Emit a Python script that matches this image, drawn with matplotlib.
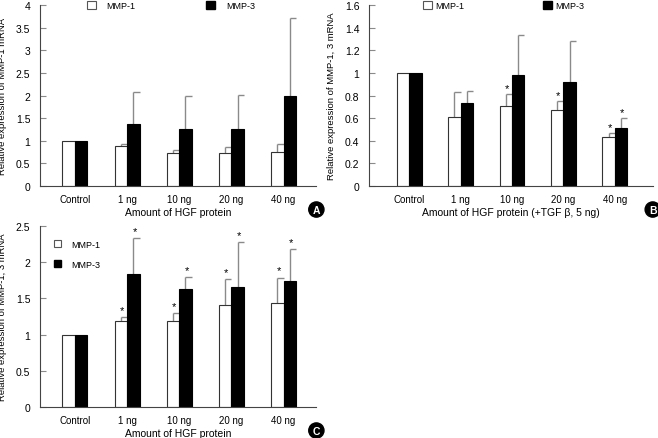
import numpy as np
import matplotlib.pyplot as plt
from matplotlib.patches import Patch

plt.rcParams['font.family'] = ['Liberation Sans Narrow', 'Liberation Sans', 'DejaVu Sans']
plt.rcParams['font.size'] = 7.5

categorie = ['Control', '1 ng', '10 ng', '20 ng', '40 ng']

# pannello A
a_mmp1 = [1.0, 0.88, 0.73, 0.73, 0.745]
a_mmp1_err = [0.0, 0.05, 0.07, 0.125, 0.175]
a_mmp3 = [1.0, 1.38, 1.25, 1.25, 2.0]
a_mmp3_err = [0.0, 0.69, 0.73, 0.77, 1.72]

# pannello B
b_mmp1 = [1.0, 0.61, 0.71, 0.67, 0.43]
b_mmp1_err = [0.0, 0.22, 0.10, 0.08, 0.04]
b_mmp3 = [1.0, 0.73, 0.98, 0.92, 0.51]
b_mmp3_err = [0.0, 0.11, 0.355, 0.365, 0.09]
b_stelle1 = [False, False, True, True, True]
b_stelle3 = [False, False, False, False, True]

# pannello C
c_mmp1 = [1.0, 1.19, 1.19, 1.41, 1.44]
c_mmp1_err = [0.0, 0.05, 0.11, 0.36, 0.35]
c_mmp3 = [1.0, 1.84, 1.625, 1.66, 1.74]
c_mmp3_err = [0.0, 0.49, 0.175, 0.62, 0.44]
c_stelle1 = [False, True, True, True, True]
c_stelle3 = [False, True, True, True, True]

fig = plt.figure(figsize=(6.58, 4.39), dpi=100)
axA = fig.add_axes([0.0608, 0.574, 0.42, 0.412])
axB = fig.add_axes([0.561, 0.574, 0.431, 0.412])
axC = fig.add_axes([0.0608, 0.0706, 0.42, 0.412])

w = 0.24
grigio = '#8a8a8a'


def pannello(ax, m1, e1, m3, e3, s1, s3, ymax, passo, xlim, ylabel, xlabel, dstar):
    x = np.arange(len(categorie))
    x1 = x - w / 2
    x3 = x + w / 2
    ax.bar(x1, m1, w, color='white', edgecolor='#333333', linewidth=0.8, label='MMP-1', zorder=2)
    ax.bar(x3, m3, w, color='black', edgecolor='black', linewidth=0.8, label='MMP-3', zorder=2)
    for xs, m, e, s in [(x1, m1, e1, s1), (x3, m3, e3, s3)]:
        m = np.array(m)
        e = np.array(e)
        sel = e > 0
        ax.vlines(xs[sel], m[sel], m[sel] + e[sel], color=grigio, lw=1, zorder=1)
        ax.hlines(m[sel] + e[sel], xs[sel], xs[sel] + w / 2, color=grigio, lw=1, zorder=1)
        for xi, top, st in zip(xs, m + e, s):
            if st:
                ax.text(xi + w * 0.1, top + dstar, '*', ha='center', va='bottom', fontsize=8)
    ax.set_xlim(*xlim)
    ax.set_ylim(0, ymax)
    ticks = np.arange(0, ymax + passo / 2, passo)
    ax.set_yticks(ticks)
    ax.set_yticklabels(['%g' % t for t in ticks])
    ax.set_xticks(x)
    ax.set_xticklabels(categorie, fontsize=7)
    ax.tick_params(axis='x', length=0, pad=6)
    ax.tick_params(axis='y', direction='in', length=4, color=grigio, pad=7)
    for lato in ['top', 'right']:
        ax.spines[lato].set_visible(False)
    for lato in ['left', 'bottom']:
        ax.spines[lato].set_color('#444444')
        ax.spines[lato].set_linewidth(0.8)
    ax.set_ylabel(ylabel, fontsize=6.8, labelpad=6)
    ax.set_xlabel(xlabel, fontsize=7.5, labelpad=2)


pannello(axA, a_mmp1, a_mmp1_err, a_mmp3, a_mmp3_err, [False] * 5, [False] * 5,
         4, 0.5, (-0.67, 4.63), 'Relative expression of MMP-1 mRNA', 'Amount of HGF protein', 0.05)
pannello(axB, b_mmp1, b_mmp1_err, b_mmp3, b_mmp3_err, b_stelle1, b_stelle3,
         1.6, 0.2, (-0.78, 4.74), 'Relative expression of MMP-1, 3 mRNA',
         'Amount of HGF protein (+TGF \u03b2, 5 ng)', 0.01)
pannello(axC, c_mmp1, c_mmp1_err, c_mmp3, c_mmp3_err, c_stelle1, c_stelle3,
         2.5, 0.5, (-0.67, 4.63), 'Relative expression of MMP-1, 3 mRNA', 'Amount of HGF protein', 0.03)

maniglie = [Patch(facecolor='white', edgecolor='#555555', linewidth=0.8, label='MMP-1'),
            Patch(facecolor='black', edgecolor='black', label='MMP-3')]

axA.legend(handles=maniglie, ncol=2, frameon=False, loc='center left', bbox_to_anchor=(0.14, 1.0),
           handlelength=1.0, handleheight=1.0, handletextpad=1.2, columnspacing=7.8, fontsize=6.5)
axB.legend(handles=maniglie, ncol=2, frameon=False, loc='center left', bbox_to_anchor=(0.16, 1.0),
           handlelength=1.0, handleheight=1.0, handletextpad=0.4, columnspacing=8.7, fontsize=6.5)
axC.legend(handles=maniglie, ncol=1, frameon=False, loc='upper left', bbox_to_anchor=(0.02, 0.97),
           handlelength=0.8, handleheight=0.9, handletextpad=1.2, labelspacing=1.2, fontsize=6.5)

for ax, lettera in [(axA, 'A'), (axB, 'B'), (axC, 'C')]:
    ax.text(1.0, -0.13, lettera, transform=ax.transAxes, ha='center', va='center',
            color='white', fontsize=7.5, fontweight='bold',
            bbox=dict(boxstyle='circle,pad=0.25', facecolor='black', edgecolor='black'))

fig.savefig('out.png', dpi=100)
